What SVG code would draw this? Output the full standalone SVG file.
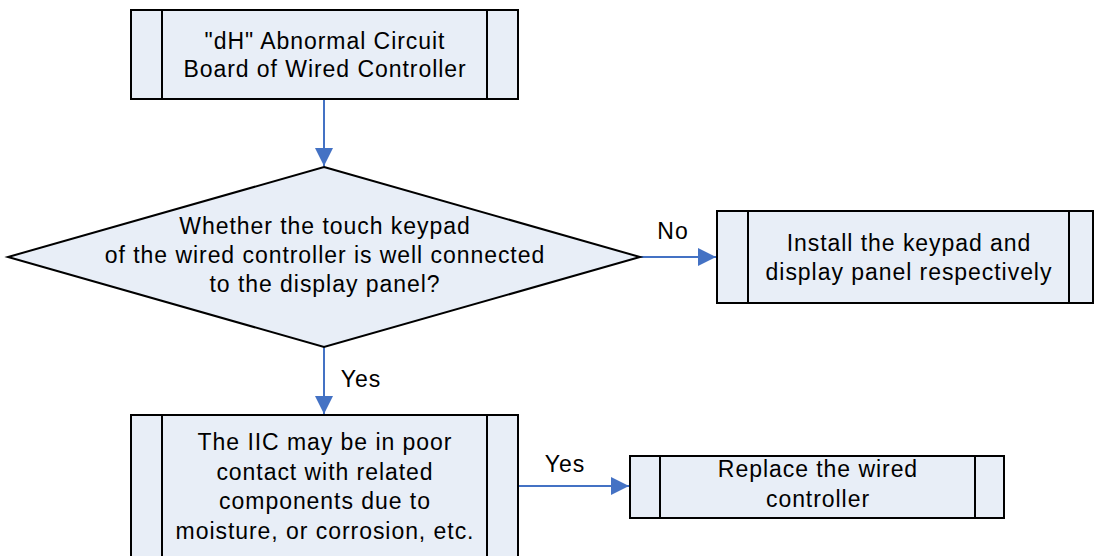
<svg xmlns="http://www.w3.org/2000/svg" width="1094" height="556" viewBox="0 0 1094 556">
<style>
.box{fill:#E8EEF7;stroke:#000;stroke-width:2}
.sep{stroke:#000;stroke-width:2}
.t{font-family:"Liberation Sans",Arial,sans-serif;font-size:23px;fill:#000;text-anchor:middle;letter-spacing:0.95px}
.c{stroke:#4472C4;stroke-width:2;fill:none}
</style>
<defs>
<marker id="ah" markerUnits="userSpaceOnUse" markerWidth="20" markerHeight="20" refX="18" refY="9" orient="auto">
<path d="M0,0 L18,9 L0,18 z" fill="#4472C4"/>
</marker>
</defs>
<g id="connectors">
<line class="c" x1="324" y1="99" x2="324" y2="166" marker-end="url(#ah)"/>
<line class="c" x1="640" y1="257" x2="716" y2="257" marker-end="url(#ah)"/>
<line class="c" x1="324" y1="347" x2="324" y2="414" marker-end="url(#ah)"/>
<line class="c" x1="518" y1="486" x2="629" y2="486" marker-end="url(#ah)"/>
<text class="t" x="673" y="239">No</text>
<text class="t" x="361" y="387">Yes</text>
<text class="t" x="565" y="472">Yes</text>
</g>
<g id="start">
<rect class="box" x="131" y="10" width="387" height="89"/>
<line class="sep" x1="162" y1="10" x2="162" y2="99"/>
<line class="sep" x1="487" y1="10" x2="487" y2="99"/>
<text class="t" x="325" y="49">"dH" Abnormal Circuit</text>
<text class="t" x="325" y="77">Board of Wired Controller</text>
</g>
<g id="decision">
<polygon class="box" points="324,167 640,257 324,347 8,257"/>
<text class="t" x="325" y="234">Whether the touch keypad</text>
<text class="t" x="325" y="263">of the wired controller is well connected</text>
<text class="t" x="325" y="292">to the display panel?</text>
</g>
<g id="install">
<rect class="box" x="717" y="211" width="376" height="92"/>
<line class="sep" x1="748" y1="211" x2="748" y2="303"/>
<line class="sep" x1="1069" y1="211" x2="1069" y2="303"/>
<text class="t" x="909" y="251">Install the keypad and</text>
<text class="t" x="909" y="280">display panel respectively</text>
</g>
<g id="iic">
<rect class="box" x="131" y="415" width="387" height="160"/>
<line class="sep" x1="162" y1="415" x2="162" y2="575"/>
<line class="sep" x1="487" y1="415" x2="487" y2="575"/>
<text class="t" x="325" y="450">The IIC may be in poor</text>
<text class="t" x="325" y="480">contact with related</text>
<text class="t" x="325" y="509">components due to</text>
<text class="t" x="325" y="539">moisture, or corrosion, etc.</text>
</g>
<g id="replace">
<rect class="box" x="630" y="456" width="374" height="62"/>
<line class="sep" x1="660" y1="456" x2="660" y2="518"/>
<line class="sep" x1="975" y1="456" x2="975" y2="518"/>
<text class="t" x="818" y="477">Replace the wired</text>
<text class="t" x="818" y="507">controller</text>
</g>
</svg>
